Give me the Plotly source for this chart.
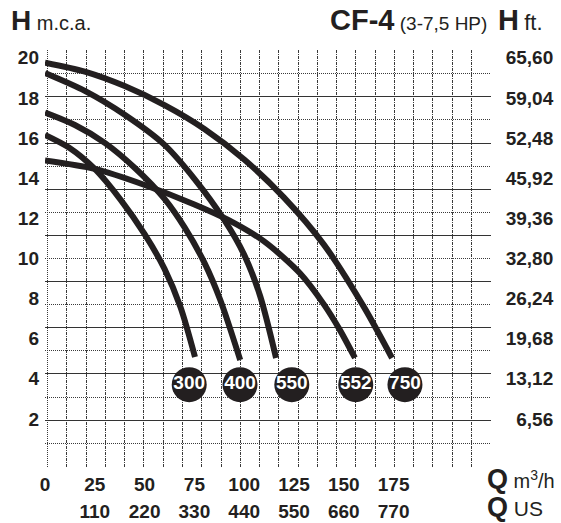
import plotly.graph_objects as go

# ---------------- data ----------------
# Q in m3/h, H in m.c.a.
Q_750 = [0, 20, 40, 60, 80, 100, 120, 140, 160, 174.2]
H_750 = [19.76, 19.31, 18.59, 17.64, 16.45, 14.93, 13.03, 10.69, 7.60, 5.04]

Q_550 = [0, 20, 40, 60, 75, 90, 100, 108, 116]
H_550 = [19.24, 18.35, 17.16, 15.66, 13.97, 11.92, 10.18, 8.13, 5.04]

Q_400 = [0, 15, 30, 45, 60, 70, 80, 88, 98]
H_400 = [17.27, 16.65, 15.76, 14.52, 12.97, 11.56, 9.79, 7.93, 4.94]

Q_300 = [0, 12, 25, 38, 50, 60, 68, 75.3]
H_300 = [16.16, 15.53, 14.46, 12.92, 11.21, 9.48, 7.58, 5.09]

Q_552 = [0, 25, 50, 75, 92, 110, 128, 140, 148, 155.6]
H_552 = [14.88, 14.46, 13.66, 12.69, 11.92, 10.85, 9.26, 7.71, 6.44, 5.04]

MODELS = ["300", "400", "550", "552", "750"]
MODEL_Q = [72.4, 97.9, 123.9, 156.0, 180.7]
MODEL_H = [3.71, 3.71, 3.71, 3.71, 3.71]

Q_TICKS = [0, 25, 50, 75, 100, 125, 150, 175]
Q_LABELS = ["0", "25", "50", "75", "100", "125", "150", "175"]
US_TICKS = [110, 220, 330, 440, 550, 660, 770]
US_LABELS = ["110", "220", "330", "440", "550", "660", "770"]
H_TICKS = [2, 4, 6, 8, 10, 12, 14, 16, 18, 20]
H_LABELS = ["2", "4", "6", "8", "10", "12", "14", "16", "18", "20"]
FT_TICKS = [6.56, 13.12, 19.68, 26.24, 32.80, 39.36, 45.92, 52.48, 59.04, 65.60]
FT_LABELS = ["6,56", "13,12", "19,68", "26,24", "32,80", "39,36", "45,92", "52,48", "59,04", "65,60"]

M3H_TO_USGPM = 4.4
M_TO_FT = 3.28

# ---------------- layout geometry ----------------
W, HGT = 561, 523
ML, MR, MT, MB = 45, 0, 50, 56
PLOT_R = 491
PW = W - ML - MR
PH = HGT - MT - MB
X_DOMAIN_END = (PLOT_R - ML) / PW

X_RANGE = [0, 223.9]
Y_RANGE = [-0.394, 20.389]

INK = "#231f20"
FONT = "Liberation Sans"
DOTTED = "#3a3a3a"


def px_x(px):
    return (px - ML) / PW


def px_y(py):
    return (HGT - MB - py) / PH


fig = go.Figure()

# helper traces that register the grid and secondary label axes
fig.add_trace(go.Scatter(x=[None], y=[None], xaxis="x", yaxis="y",
                         showlegend=False, hoverinfo="skip"))
fig.add_trace(go.Scatter(x=[None], y=[None], xaxis="x3", yaxis="y3",
                         showlegend=False, hoverinfo="skip"))

for q, h in [(Q_750, H_750), (Q_550, H_550), (Q_400, H_400), (Q_300, H_300), (Q_552, H_552)]:
    fig.add_trace(go.Scatter(
        x=q, y=h, xaxis="x2", yaxis="y2", mode="lines",
        line=dict(color=INK, width=6, shape="spline", smoothing=0.8),
        showlegend=False, hoverinfo="skip"))

fig.add_trace(go.Scatter(
    x=MODEL_Q, y=MODEL_H, xaxis="x2", yaxis="y2", mode="markers+text", text=MODELS,
    textposition="middle center",
    textfont=dict(family=FONT, size=19, color="white", weight="bold"),
    marker=dict(size=35, color=INK, line=dict(width=0)),
    showlegend=False, hoverinfo="skip"))

common_off = dict(showline=False, zeroline=False, ticks="", type="linear")
tickfont = dict(family=FONT, size=19, color=INK, weight="bold")

fig.update_layout(
    width=W, height=HGT,
    margin=dict(l=ML, r=MR, t=MT, b=MB),
    paper_bgcolor="white", plot_bgcolor="white",
    # grid axes (main)
    xaxis=dict(domain=[0, X_DOMAIN_END], anchor="y", range=[-1.14, 22.02],
               tickmode="array", tickvals=[-1.125] + list(range(0, 23)),
               showticklabels=False, showgrid=True, gridcolor=DOTTED,
               gridwidth=1, griddash="dot",
               minor=dict(tickmode="linear", tick0=0, dtick=1, showgrid=True,
                          gridcolor=DOTTED, gridwidth=1, griddash="1px,1px", ticks=""),
               **common_off),
    yaxis=dict(anchor="x", range=[-0.03, 18.03],
               tickmode="array", tickvals=[2, 4, 6, 8, 10, 12, 14, 16],
               showticklabels=False, showgrid=True, gridcolor="#333333",
               gridwidth=1.2, griddash="solid",
               minor=dict(tickmode="linear", tick0=0, dtick=1, showgrid=True,
                          gridcolor=DOTTED, gridwidth=1, griddash="1px,1px", ticks=""),
               **common_off),
    # data axes
    xaxis2=dict(overlaying="x", anchor="y", side="bottom", range=X_RANGE, showgrid=False,
                tickmode="array", tickvals=Q_TICKS, ticktext=Q_LABELS,
                tickfont=tickfont, ticklabelstandoff=4, **common_off),
    yaxis2=dict(overlaying="y", anchor="x", side="left", range=Y_RANGE, showgrid=False,
                tickmode="array", tickvals=H_TICKS, ticktext=H_LABELS,
                tickfont=tickfont, ticklabelstandoff=5, **common_off),
    # unit-conversion label axes
    xaxis3=dict(overlaying="x", anchor="y", side="bottom",
                range=[X_RANGE[0] * M3H_TO_USGPM, X_RANGE[1] * M3H_TO_USGPM],
                showgrid=False, tickmode="array", tickvals=US_TICKS, ticktext=US_LABELS,
                tickfont=tickfont, ticklabelstandoff=31, **common_off),
    yaxis3=dict(overlaying="y", anchor="free", side="left", position=0.985,
                range=[Y_RANGE[0] * M_TO_FT, Y_RANGE[1] * M_TO_FT],
                showgrid=False, tickmode="array", tickvals=FT_TICKS, ticktext=FT_LABELS,
                tickfont=tickfont, ticklabelstandoff=0, **common_off),
    showlegend=False,
)

ann = [
    dict(text="<b><span style='font-size:28px'>H</span></b> m.c.a.",
         x=px_x(10), y=px_y(37), xanchor="left", yanchor="bottom",
         font=dict(family=FONT, size=20, color=INK)),
    dict(text="<b><span style='font-size:29px'>CF-4</span></b> (3-7,5 HP)&nbsp; <b><span style='font-size:29px'>H</span></b> <span style='font-size:22px'>ft.</span>",
         x=px_x(544), y=px_y(37), xanchor="right", yanchor="bottom",
         font=dict(family=FONT, size=19, color=INK)),
    dict(text="<b><span style='font-size:27px'>Q</span></b> m<sup>3</sup>/h",
         x=px_x(486), y=px_y(495), xanchor="left", yanchor="bottom",
         font=dict(family=FONT, size=20, color=INK)),
    dict(text="<b><span style='font-size:27px'>Q</span></b> US",
         x=px_x(486), y=px_y(523), xanchor="left", yanchor="bottom",
         font=dict(family=FONT, size=21, color=INK)),
]
for a in ann:
    a.update(xref="paper", yref="paper", showarrow=False, borderpad=0)
fig.update_layout(annotations=ann)

fig.write_html("out.html")
